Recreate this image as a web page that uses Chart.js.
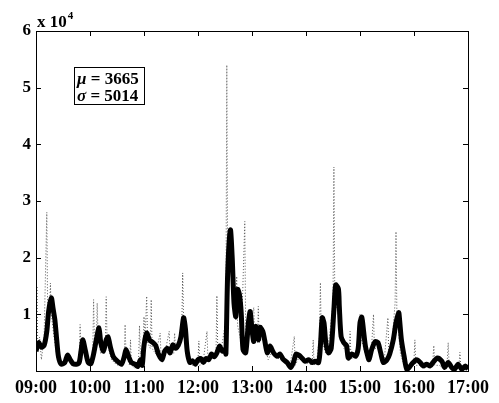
<!DOCTYPE html>
<html lang="en">
<head>
    <meta charset="UTF-8">
    <title>Traffic</title>
    <script src="https://cdn.jsdelivr.net/npm/chart.js@4.4.0/dist/chart.umd.min.js"></script>
    <style>
      body { margin: 0; background: #fff; }
      #wrap { width: 499px; height: 403px; }
    </style>
</head>
<body>
    <div id="wrap"><canvas id="myChart" width="499" height="403"></canvas></div>
    <script>
// minutes after 09:00, values in units of 10^4
const smoothT = [0,3,6,9,12,14,17,19,21,23,25,28,32,35,38,41,45,48,50,52,55,58,61,64,67,70,72,75,78,80,83,86,90,95,98,100,103,106,110,113,116,118,120,123,126,130,133,136,140,143,146,149,152,155,158,161,164,166,168,171,174,177,180,183,186,189,192,195,198,201,204,207,210,211,213,216,218,220,222,224,226,228,230,233,236,238,240,242,244,247,249,252,254,257,260,264,268,271,275,279,283,286,289,292,296,299,303,307,310,314,316,318,320,322,325,328,331,333,336,337,339,342,345,347,351,355,358,360,362,364,366,368,370,373,377,380,383,386,390,393,397,400,403,404,406,409,412,416,419,423,427,430,434,438,441,446,451,454,458,462,465,469,473,477,480];
const smoothV = [0.35,0.5,0.42,0.45,0.7,1.05,1.29,1.1,0.9,0.55,0.25,0.12,0.15,0.28,0.2,0.13,0.12,0.15,0.35,0.55,0.35,0.15,0.13,0.3,0.55,0.76,0.5,0.35,0.55,0.6,0.4,0.25,0.18,0.12,0.25,0.38,0.25,0.15,0.12,0.08,0.2,0.1,0.45,0.67,0.55,0.5,0.45,0.3,0.2,0.35,0.4,0.32,0.46,0.4,0.45,0.6,0.94,0.75,0.35,0.15,0.18,0.12,0.2,0.22,0.15,0.22,0.2,0.3,0.25,0.32,0.44,0.35,0.38,0.3,1.73,2.49,2.0,1.2,0.96,1.44,1.35,1.03,0.38,0.32,0.85,1.05,0.73,0.52,0.79,0.55,0.77,0.7,0.55,0.32,0.44,0.32,0.26,0.3,0.2,0.15,0.06,0.15,0.3,0.28,0.22,0.17,0.2,0.15,0.17,0.15,0.44,0.94,0.85,0.5,0.32,0.4,1.08,1.52,1.45,1.14,0.61,0.5,0.45,0.23,0.3,0.26,0.4,0.85,0.95,0.7,0.44,0.3,0.2,0.38,0.52,0.5,0.32,0.15,0.2,0.3,0.55,0.85,1.03,0.9,0.55,0.26,0.03,0.09,0.15,0.2,0.15,0.09,0.12,0.09,0.15,0.23,0.17,0.06,0.15,0.06,0.03,0.12,0.03,0.09,0.03];

const rawT = [0,1,2,4,6,9,12,13,15,16,17,20,24,30,36,42,48,49,50,54,58,63,64,65,67,68,69,72,77,78,79,84,90,98,99,100,104,105,106,110,114,115,116,119,120,121,123,124,127,128,129,133,138,139,143,148,149,153,154,155,158,162,163,164,168,174,180,181,182,186,190,191,195,200,201,202,206,211,212,213,215,218,222,223,224,228,232,233,234,238,242,243,246,247,248,252,258,264,270,276,282,287,288,294,300,307,308,309,312,315,316,317,322,326,330,331,332,336,342,348,349,350,355,359,360,361,366,372,375,376,381,387,391,392,396,399,400,401,405,410,416,420,421,422,426,432,436,441,442,443,448,453,457,458,459,464,470,471,472,476,480];
const rawV = [0.3,1.5,0.4,0.6,0.2,0.6,2.8,0.9,1.0,1.55,1.0,0.6,0.2,0.1,0.3,0.1,0.2,0.82,0.4,0.5,0.1,0.3,1.26,0.5,0.5,1.2,0.6,0.3,0.4,1.31,0.5,0.2,0.1,0.2,0.82,0.3,0.1,0.55,0.1,0.05,0.2,0.8,0.3,0.4,0.96,0.5,1.32,0.5,0.4,1.26,0.4,0.3,0.67,0.2,0.3,0.7,0.3,0.3,0.67,0.4,0.4,0.8,1.73,0.9,0.4,0.1,0.2,0.53,0.1,0.2,0.7,0.2,0.3,0.3,1.33,0.3,0.4,0.9,5.4,1.8,2.2,1.5,0.9,1.67,0.8,0.5,2.64,0.6,0.4,0.8,1.12,0.5,0.5,1.14,0.5,0.6,0.2,0.4,0.2,0.2,0.05,0.61,0.1,0.3,0.15,0.1,0.55,0.1,0.2,0.6,1.56,0.6,0.3,0.6,1.2,3.6,1.3,1.0,0.4,0.3,0.7,0.2,0.3,0.6,1.0,0.6,0.3,0.2,1.0,0.4,0.4,0.2,0.94,0.3,0.6,1.2,2.46,1.0,0.3,0.05,0.1,0.2,0.55,0.1,0.1,0.05,0.1,0.2,0.45,0.1,0.1,0.05,0.2,0.5,0.1,0.05,0.1,0.33,0.05,0.05,0.05];

const hourLabels = ['09:00','10:00','11:00','12:00','13:00','14:00','15:00','16:00','17:00'];
const yTicks = [1,2,3,4,5,6];
const statMu = 3665;
const statSigma = 5014;

function pairs(t, v) {
  const out = [];
  for (let i = 0; i < t.length; i++) out.push({x: t[i], y: v[i]});
  return out;
}

const serif = '"Liberation Serif", "Times New Roman", serif';

const boxPlugin = {
  id: 'boxPlugin',
  afterDraw(chart) {
    const ctx = chart.ctx;
    const a = chart.chartArea;
    const xs = chart.scales.x, ys = chart.scales.y;
    ctx.save();
    ctx.strokeStyle = '#000';
    ctx.lineWidth = 1;
    ctx.strokeRect(Math.round(a.left) + 0.5, Math.round(a.top) + 0.5, Math.round(a.right - a.left), Math.round(a.bottom - a.top));
    // inward ticks on all four sides
    ctx.beginPath();
    for (let i = 0; i < hourLabels.length; i++) {
      const px = Math.round(xs.getPixelForValue(i * 60)) + 0.5;
      ctx.moveTo(px, a.bottom); ctx.lineTo(px, a.bottom - 5);
      ctx.moveTo(px, a.top); ctx.lineTo(px, a.top + 5);
    }
    yTicks.forEach(v => {
      const py = Math.round(ys.getPixelForValue(v)) + 0.5;
      ctx.moveTo(a.left, py); ctx.lineTo(a.left + 5, py);
      ctx.moveTo(a.right, py); ctx.lineTo(a.right - 5, py);
    });
    ctx.stroke();

    // x 10^4
    ctx.fillStyle = '#000';
    ctx.textBaseline = 'alphabetic';
    ctx.font = 'bold 17px ' + serif;
    ctx.fillText('x 10', 37, 27);
    const w = ctx.measureText('x 10').width;
    ctx.font = 'bold 11px ' + serif;
    ctx.fillText('4', 37 + w + 1, 19);

    // stats box
    ctx.fillStyle = '#fff';
    ctx.fillRect(74.5, 67.5, 70, 37);
    ctx.strokeRect(74.5, 67.5, 70, 37);
    ctx.fillStyle = '#000';
    const rows = [['\u03bc', statMu, 84], ['\u03c3', statSigma, 101]];
    rows.forEach(r => {
      ctx.font = 'italic bold 17px ' + serif;
      ctx.fillText(r[0], 77, r[2]);
      const gw = ctx.measureText(r[0]).width;
      ctx.font = 'bold 17px ' + serif;
      ctx.fillText(' = ' + r[1], 77 + gw, r[2]);
    });
    ctx.restore();
  }
};

new Chart('myChart', {
  type: 'line',
  data: {
    datasets: [{
      data: pairs(smoothT, smoothV),
      borderColor: '#000',
      borderWidth: 5,
      pointRadius: 0,
      tension: 0.25,
      order: 0
    }, {
      data: pairs(rawT, rawV),
      borderColor: '#555',
      borderWidth: 1,
      borderDash: [1, 2],
      pointRadius: 0,
      tension: 0,
      order: 1
    }]
  },
  options: {
    responsive: false,
    animation: false,
    layout: { padding: { left: 0, right: 31, top: 31, bottom: 0 } },
    plugins: { legend: { display: false }, tooltip: { enabled: false } },
    scales: {
      x: {
        type: 'linear', min: 0, max: 480,
        grid: { display: false, drawTicks: false },
        border: { display: false },
        afterFit: s => { s.height = 32; },
        ticks: {
          stepSize: 60, maxRotation: 0, padding: 7,
          color: '#000',
          font: { family: serif, size: 18, weight: 'bold' },
          callback: v => hourLabels[v / 60]
        }
      },
      y: {
        min: 0, max: 6,
        grid: { display: false, drawTicks: false },
        border: { display: false },
        afterFit: s => { s.width = 36; },
        ticks: {
          stepSize: 1, padding: 5,
          color: '#000',
          font: { family: serif, size: 17, weight: 'bold' },
          callback: v => v === 0 ? '' : v
        }
      }
    }
  },
  plugins: [boxPlugin]
});
    </script>
</body>
</html>
